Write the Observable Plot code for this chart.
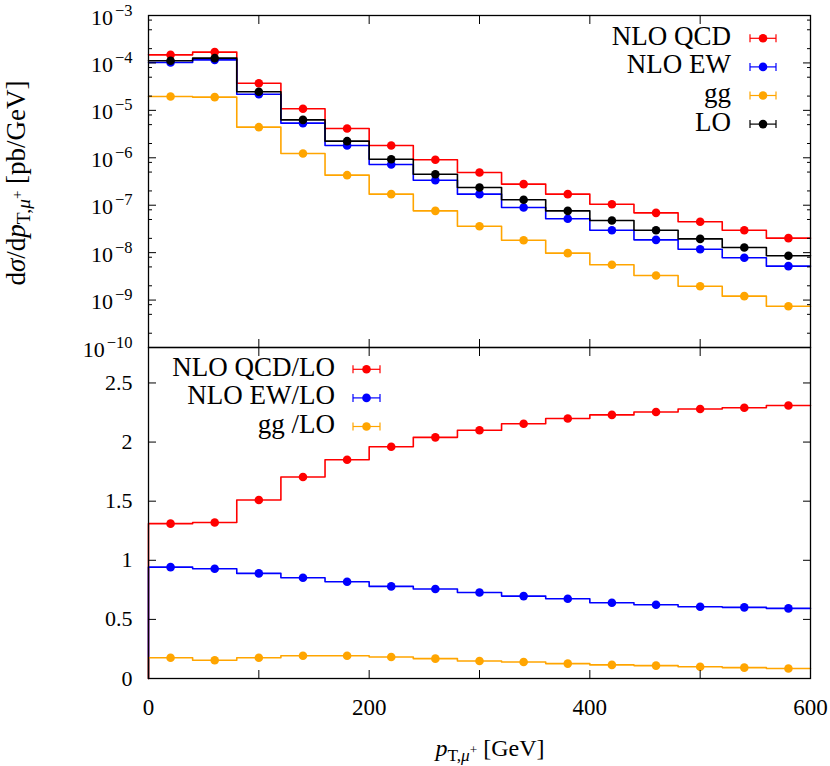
<!DOCTYPE html>
<html><head><meta charset="utf-8">
<script src="https://cdn.jsdelivr.net/npm/d3@7"></script>
<script src="https://cdn.jsdelivr.net/npm/@observablehq/plot@0.6"></script>
<style>
body{margin:0;background:#fff;}
#chart svg{display:block;overflow:visible;}
#chart text{font-family:'Liberation Serif','DejaVu Serif',serif;}
</style></head><body><div id="chart"></div>
<script>
// ---- data ----
const binLow    = [0, 40, 80, 120, 160, 200, 240, 280, 320, 360, 400, 440, 480, 520, 560];
const binCenter = [20, 60, 100, 140, 180, 220, 260, 300, 340, 380, 420, 460, 500, 540, 580];
const xMax = 600;

const nloQCD = [1.48e-4, 1.69e-4, 3.74e-5, 1.08e-5, 4.15e-6, 1.82e-6, 9.06e-7, 4.9e-7, 2.78e-7, 1.71e-7, 1.05e-7, 6.9e-8, 4.47e-8, 2.97e-8, 2.02e-8];
const nloEW  = [1.02e-4, 1.16e-4, 2.19e-5, 5.37e-6, 1.82e-6, 7.2e-7, 3.37e-7, 1.71e-7, 8.95e-8, 5.17e-8, 2.97e-8, 1.86e-8, 1.18e-8, 7.78e-9, 5.19e-9];
const ggVal  = [1.96e-5, 1.9e-5, 4.42e-6, 1.23e-6, 4.3e-7, 1.71e-7, 7.6e-8, 3.61e-8, 1.83e-8, 9.75e-9, 5.55e-9, 3.3e-9, 1.96e-9, 1.21e-9, 7.43e-10];
const loVal  = [1.11e-4, 1.26e-4, 2.46e-5, 6.3e-6, 2.24e-6, 9.3e-7, 4.5e-7, 2.36e-7, 1.3e-7, 7.6e-8, 4.77e-8, 2.97e-8, 1.95e-8, 1.28e-8, 8.57e-9];

const qcdRatio = [1.31, 1.32, 1.51, 1.705, 1.85, 1.96, 2.04, 2.10, 2.155, 2.20, 2.23, 2.255, 2.28, 2.29, 2.31];
const ewRatio  = [0.942, 0.928, 0.889, 0.852, 0.818, 0.779, 0.757, 0.728, 0.697, 0.675, 0.641, 0.624, 0.607, 0.602, 0.593];
const ggRatio  = [0.176, 0.154, 0.176, 0.193, 0.193, 0.182, 0.168, 0.148, 0.14, 0.126, 0.115, 0.109, 0.1, 0.092, 0.084];

const topNames   = ["NLO QCD", "NLO EW", "gg", "LO"];
const ratioNames = ["NLO QCD/LO", "NLO EW/LO", "gg /LO"];
const colors     = ["#ff0000", "#0000ff", "#ffa500", "#000000"];

const decades    = [1e-10, 1e-9, 1e-8, 1e-7, 1e-6, 1e-5, 1e-4, 1e-3];
const minorMult  = [2, 5, 8];
const ratioTicks = [0, 0.5, 1, 1.5, 2, 2.5];
const xTickMarks = [0, 100, 200, 300, 400, 500, 600];
const xTickLabels = [0, 200, 400, 600];

// ---- helpers ----
const W = 830, ML = 148, MR = 20;
const FONT = "'Liberation Serif', 'DejaVu Serif', serif";
const minorTicks = decades.slice(0, -1).flatMap(d => minorMult.map(m => d * m));

function stepPoints(v, start0) {
  const pts = binLow.map((x, i) => ({x, y: v[i]}));
  pts.push({x: xMax, y: v[v.length - 1]});
  if (start0) pts.unshift({x: 0, y: 0});
  return pts;
}
function dotPoints(v) { return binCenter.map((x, i) => ({x, y: v[i]})); }
function seriesMarks(vals, start0) {
  return vals.flatMap((v, i) => [
    Plot.line(stepPoints(v, start0), {x: "x", y: "y", curve: "step-after", stroke: colors[i], strokeWidth: 1.6}),
    Plot.dot(dotPoints(v), {x: "x", y: "y", r: 4.3, fill: colors[i]})
  ]);
}
function frameTicks(yTicks, yMinor) {
  const m = [
    Plot.axisY({anchor: "left", ticks: yTicks, tickSize: -8, fill: "none"}),
    Plot.axisY({anchor: "right", ticks: yTicks, tickSize: -8, fill: "none"}),
    Plot.axisX({anchor: "bottom", ticks: xTickMarks, tickSize: -8, fill: "none"}),
    Plot.axisX({anchor: "top", ticks: xTickMarks, tickSize: -8, fill: "none"})
  ];
  if (yMinor) {
    m.push(Plot.axisY({anchor: "left", ticks: yMinor, tickSize: -4, fill: "none"}));
    m.push(Plot.axisY({anchor: "right", ticks: yMinor, tickSize: -4, fill: "none"}));
  }
  return m;
}

// ---- top panel ----
const topPlot = Plot.plot({
  width: W, height: 347, marginTop: 15, marginBottom: 0, marginLeft: ML, marginRight: MR,
  style: {fontFamily: FONT, background: "white", color: "black"},
  x: {domain: [0, xMax]},
  y: {type: "log", domain: [1e-10, 1e-3]},
  marks: [
    ...seriesMarks([nloQCD, nloEW, ggVal, loVal], false),
    ...frameTicks(decades, minorTicks),
    Plot.axisY({anchor: "left", ticks: decades, tickSize: 0, tickPadding: 16, fontSize: 22, dy: 2, label: null,
      tickFormat: d => "10|" + Math.round(Math.log10(d))}),
    Plot.frame({stroke: "black", strokeWidth: 1.3})
  ]
});

// ---- bottom panel ----
const botPlot = Plot.plot({
  width: W, height: 419, marginTop: 0, marginBottom: 88, marginLeft: ML, marginRight: MR,
  style: {fontFamily: FONT, background: "white", color: "black"},
  x: {domain: [0, xMax]},
  y: {domain: [0, 2.8]},
  marks: [
    ...seriesMarks([qcdRatio, ewRatio, ggRatio], true),
    ...frameTicks(ratioTicks, null),
    Plot.axisY({anchor: "left", ticks: ratioTicks, tickSize: 0, tickPadding: 16, fontSize: 22, label: null,
      tickFormat: d => String(d)}),
    Plot.axisX({anchor: "bottom", ticks: xTickLabels, tickSize: 0, tickPadding: 20, fontSize: 23, label: null,
      tickFormat: d => String(d)}),
    Plot.frame({stroke: "black", strokeWidth: 1.3})
  ]
});

const chart = document.getElementById("chart");
chart.appendChild(topPlot);
chart.appendChild(botPlot);

// superscripts for log tick labels
d3.select(topPlot).selectAll('g[aria-label="y-axis tick label"] text').each(function() {
  const t = d3.select(this);
  const [b, e] = t.text().split("|");
  t.text(null);
  t.append("tspan").text(b);
  t.append("tspan").attr("dy", -9).attr("dx", 2).attr("font-size", "0.75em").text(e.replace("-", "\u2212"));
});

// y axis label
const ts = d3.select(topPlot);
const yl = ts.append("text")
  .attr("transform", "translate(25,183) rotate(-90)")
  .attr("text-anchor", "middle").attr("font-size", 27).attr("fill", "black");
yl.append("tspan").text("d");
yl.append("tspan").attr("font-style", "italic").text("σ");
yl.append("tspan").text("/d");
yl.append("tspan").attr("font-style", "italic").text("p");
yl.append("tspan").attr("font-size", "0.72em").attr("dy", 5).text("T,");
yl.append("tspan").attr("font-size", "0.72em").attr("font-style", "italic").text("μ");
yl.append("tspan").attr("font-size", "0.55em").attr("dy", -8).text("+");
yl.append("tspan").attr("dy", 3).text(" [pb/GeV]");

// x axis label
const bs = d3.select(botPlot);
const xl = bs.append("text")
  .attr("x", 490).attr("y", 409)
  .attr("text-anchor", "middle").attr("font-size", 24).attr("fill", "black");
xl.append("tspan").attr("font-style", "italic").text("p");
xl.append("tspan").attr("font-size", "0.72em").attr("dy", 5).text("T,");
xl.append("tspan").attr("font-size", "0.72em").attr("font-style", "italic").text("μ");
xl.append("tspan").attr("font-size", "0.55em").attr("dy", -7).text("+");
xl.append("tspan").attr("dy", 2).text(" [GeV]");

// legends
function legend(sel, names, textRight, sampleX0, sampleX1, y0, offsetY) {
  names.forEach((name, i) => {
    const y = y0 + i * 28.6 - offsetY;
    const g = sel.append("g");
    g.append("text").attr("x", textRight).attr("y", y + 6.5).attr("text-anchor", "end")
      .attr("font-size", 27).attr("fill", "black").text(name);
    g.append("line").attr("x1", sampleX0).attr("x2", sampleX1).attr("y1", y).attr("y2", y)
      .attr("stroke", colors[i]).attr("stroke-width", 1.2);
    [sampleX0, sampleX1].forEach(x => g.append("line").attr("x1", x).attr("x2", x)
      .attr("y1", y - 4).attr("y2", y + 4).attr("stroke", colors[i]).attr("stroke-width", 1.2));
    g.append("circle").attr("cx", (sampleX0 + sampleX1) / 2).attr("cy", y).attr("r", 4.3).attr("fill", colors[i]);
  });
}
legend(ts, topNames, 731, 750, 776, 38.3, 0);
legend(bs, ratioNames, 335, 353, 380, 369.3, 347);

d3.selectAll("#chart text").style("font-family", FONT);
</script>
</body></html>
